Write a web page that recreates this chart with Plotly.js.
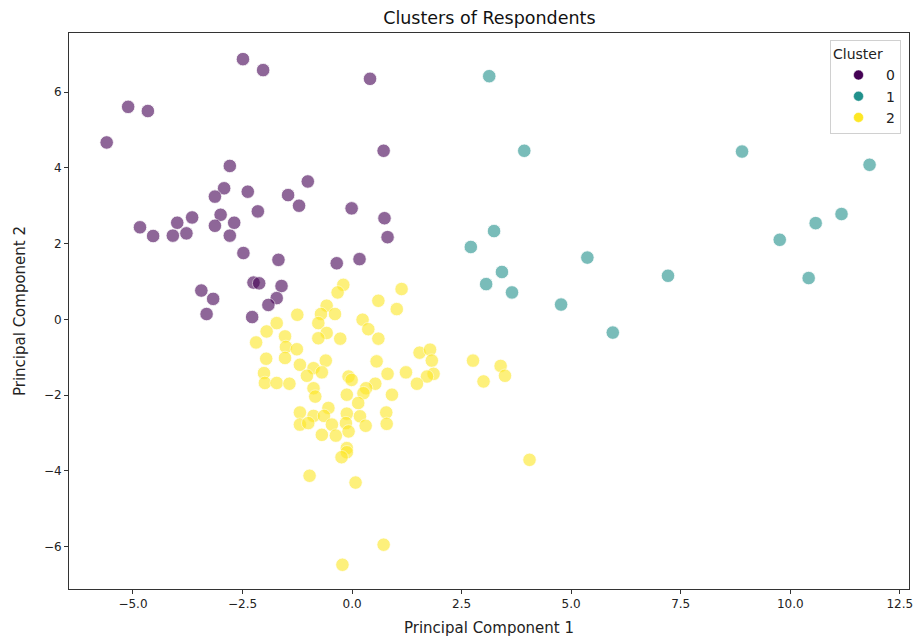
<!DOCTYPE html>
<html>
<head>
<meta charset="utf-8">
<script src="https://cdn.plot.ly/plotly-3.0.1.min.js"></script>
<style>html,body{margin:0;padding:0;background:#fff;}#chart{width:913px;height:637px;}</style>
</head>
<body>
<div id="chart"></div>
<script>
const clusterNames = ["0", "1", "2"];
const clusterColors = ["#440154", "#21918c", "#fde725"];

const c0x = [-2.49,-2.03,0.41,-5.11,-4.66,-5.60,0.72,-2.79,-1.01,-2.92,-2.38,-3.13,-1.46,-1.21,-0.01,-2.15,0.74,-3.00,-3.65,-3.99,-4.84,-3.13,-2.69,-4.54,-4.09,-3.78,-2.79,0.81,-2.48,-1.68,-0.35,0.17,-2.25,-2.12,-1.61,-3.44,-3.17,-1.72,-1.91,-3.32,-2.28];
const c0y = [6.87,6.58,6.35,5.61,5.50,4.67,4.45,4.05,3.64,3.46,3.37,3.24,3.28,3.00,2.93,2.85,2.67,2.76,2.69,2.55,2.43,2.47,2.55,2.20,2.21,2.27,2.21,2.17,1.75,1.57,1.48,1.59,0.97,0.95,0.88,0.76,0.54,0.56,0.38,0.14,0.06];

const c1x = [3.13,3.93,3.24,2.71,5.37,7.21,3.42,3.06,3.65,4.77,5.95,8.90,11.81,11.17,10.58,9.76,10.42];
const c1y = [6.42,4.45,2.33,1.91,1.63,1.15,1.25,0.93,0.71,0.39,-0.35,4.43,4.08,2.78,2.54,2.10,1.09];

const c2x = [-0.20,-0.33,1.13,0.60,1.02,-0.58,-0.39,-0.71,-1.25,0.24,-1.72,-0.77,-1.95,0.37,-0.58,-0.77,-0.27,0.60,-1.53,-2.19,-1.51,-1.26,-1.96,-1.53,-0.60,0.56,1.54,1.78,1.82,-1.19,-0.88,-2.01,-1.03,-0.69,-0.08,0.81,1.23,1.86,1.71,-1.99,-1.72,-1.43,-0.01,0.53,0.32,1.48,-0.88,-0.84,-0.12,0.26,0.91,0.14,-1.19,-0.54,-0.88,-0.64,-0.12,0.18,0.78,-1.19,-1.00,-0.46,-0.14,0.31,0.79,-0.69,-0.37,-0.08,-0.12,-0.12,-0.24,-0.97,0.08,0.72,-0.22,2.76,3.39,3.49,3.00,4.05];
const c2y = [0.91,0.71,0.80,0.49,0.27,0.36,0.14,0.14,0.12,-0.01,-0.10,-0.10,-0.32,-0.26,-0.36,-0.50,-0.51,-0.51,-0.45,-0.61,-0.73,-0.79,-1.04,-1.02,-1.09,-1.11,-0.88,-0.80,-1.09,-1.20,-1.29,-1.42,-1.49,-1.40,-1.51,-1.44,-1.40,-1.44,-1.51,-1.68,-1.68,-1.70,-1.60,-1.70,-1.82,-1.70,-1.82,-2.04,-1.99,-1.95,-1.99,-2.21,-2.46,-2.34,-2.55,-2.55,-2.49,-2.56,-2.46,-2.78,-2.74,-2.78,-2.74,-2.81,-2.76,-3.05,-3.07,-2.96,-3.40,-3.51,-3.64,-4.13,-4.31,-5.95,-6.48,-1.09,-1.23,-1.49,-1.64,-3.71];

const xTickVals = [-5, -2.5, 0, 2.5, 5, 7.5, 10, 12.5];
const xTickText = ["−5.0", "−2.5", "0.0", "2.5", "5.0", "7.5", "10.0", "12.5"];
const yTickVals = [-6, -4, -2, 0, 2, 4, 6];
const yTickText = ["−6", "−4", "−2", "0", "2", "4", "6"];

const xs = [c0x, c1x, c2x];
const ys = [c0y, c1y, c2y];

const font = "DejaVu Sans, sans-serif";
const traces = [];
for (let i = 0; i < 3; i++) {
  traces.push({
    type: "scatter", mode: "markers", x: xs[i], y: ys[i], name: clusterNames[i],
    showlegend: false, hoverinfo: "x+y",
    marker: {size: 13.5, color: clusterColors[i], opacity: 0.6, line: {color: "#ffffff", width: 0.8}}
  });
}
for (let i = 0; i < 3; i++) {
  traces.push({
    type: "scatter", mode: "markers", x: [null], y: [null], name: clusterNames[i],
    showlegend: true,
    marker: {size: 10, color: clusterColors[i], opacity: 1, line: {color: "#ffffff", width: 0.5}}
  });
}

const layout = {
  width: 913, height: 637,
  margin: {l: 69, r: 4, t: 33, b: 48},
  paper_bgcolor: "#ffffff", plot_bgcolor: "#ffffff",
  font: {family: font, size: 12, color: "#222"},
  title: {text: "Clusters of Respondents", font: {family: font, size: 17.5, color: "#111"}, x: 0.536, xanchor: "center", y: 0.972, yanchor: "middle"},
  xaxis: {
    range: [-6.46, 12.71], showgrid: false, zeroline: false,
    showline: true, linecolor: "#333", linewidth: 1, mirror: true,
    ticks: "outside", ticklen: 4, tickcolor: "#333",
    tickvals: xTickVals, ticktext: xTickText, ticklabeloverflow: "allow",
    tickfont: {family: font, size: 12, color: "#222"},
    title: {text: "Principal Component 1", font: {family: font, size: 15, color: "#222"}, standoff: 12}
  },
  yaxis: {
    range: [-7.12, 7.56], showgrid: false, zeroline: false,
    showline: true, linecolor: "#333", linewidth: 1, mirror: true,
    ticks: "outside", ticklen: 4, tickcolor: "#333",
    tickvals: yTickVals, ticktext: yTickText,
    tickfont: {family: font, size: 12, color: "#222"},
    title: {text: "Principal Component 2", font: {family: font, size: 15, color: "#222"}, standoff: 14}
  },
  legend: {
    x: 0.9905, y: 0.987, xanchor: "right", yanchor: "top",
    bgcolor: "rgba(255,255,255,0.85)", bordercolor: "#d0d0d0", borderwidth: 1,
    font: {family: font, size: 14, color: "#222"},
    title: {text: "Cluster", font: {family: font, size: 14, color: "#222"}, side: "top"},
    tracegroupgap: 0, itemwidth: 45
  },
  showlegend: true
};

Plotly.newPlot("chart", traces, layout, {displayModeBar: false, staticPlot: true});
</script>
</body>
</html>
